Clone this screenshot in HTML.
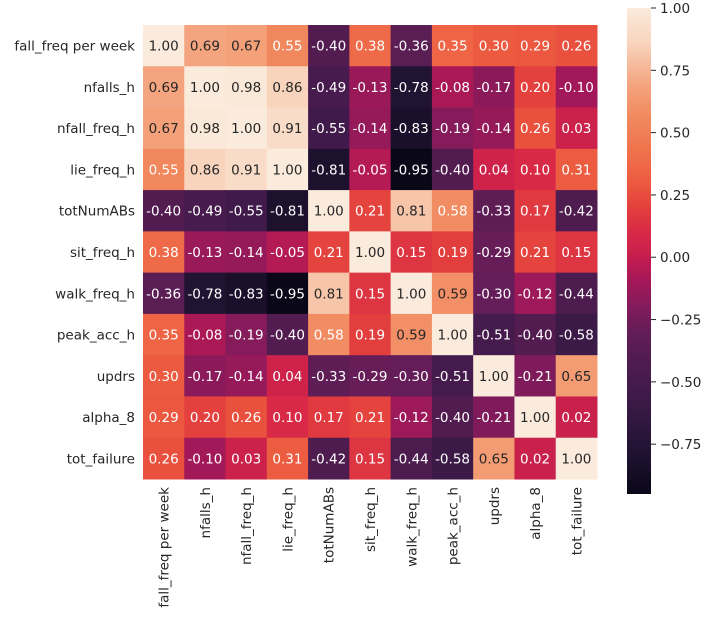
<!DOCTYPE html><html><head><meta charset="utf-8"><style>
body{margin:0;background:#fff;}svg text{font-family:"DejaVu Sans","Liberation Sans",sans-serif;}
</style></head><body>
<svg id="c" width="708" height="624"></svg>
<script>
const labels=["fall_freq per week","nfalls_h","nfall_freq_h","lie_freq_h","totNumABs","sit_freq_h","walk_freq_h","peak_acc_h","updrs","alpha_8","tot_failure"];
const row0=[1.00,0.69,0.67,0.55,-0.40,0.38,-0.36,0.35,0.30,0.29,0.26];
const row1=[0.69,1.00,0.98,0.86,-0.49,-0.13,-0.78,-0.08,-0.17,0.20,-0.10];
const row2=[0.67,0.98,1.00,0.91,-0.55,-0.14,-0.83,-0.19,-0.14,0.26,0.03];
const row3=[0.55,0.86,0.91,1.00,-0.81,-0.05,-0.95,-0.40,0.04,0.10,0.31];
const row4=[-0.40,-0.49,-0.55,-0.81,1.00,0.21,0.81,0.58,-0.33,0.17,-0.42];
const row5=[0.38,-0.13,-0.14,-0.05,0.21,1.00,0.15,0.19,-0.29,0.21,0.15];
const row6=[-0.36,-0.78,-0.83,-0.95,0.81,0.15,1.00,0.59,-0.30,-0.12,-0.44];
const row7=[0.35,-0.08,-0.19,-0.40,0.58,0.19,0.59,1.00,-0.51,-0.40,-0.58];
const row8=[0.30,-0.17,-0.14,0.04,-0.33,-0.29,-0.30,-0.51,1.00,-0.21,0.65];
const row9=[0.29,0.20,0.26,0.10,0.17,0.21,-0.12,-0.40,-0.21,1.00,0.02];
const row10=[0.26,-0.10,0.03,0.31,-0.42,0.15,-0.44,-0.58,0.65,0.02,1.00];
const matrix=[row0,row1,row2,row3,row4,row5,row6,row7,row8,row9,row10];
const cbTicks=[1.00,0.75,0.50,0.25,0.00,-0.25,-0.50,-0.75];
const vmin=-0.95,vmax=1.0;
const gx=143,gy=25,gw=454,gh=454,n=labels.length,cw=gw/n,ch=gh/n;
const cbx=627,cbw=24,cby=8,cbh=486;
const stops=[[-0.95,"#0a0718"],[-0.8,"#1e1230"],[-0.58,"#3c1a48"],[-0.42,"#4f1c50"],[-0.3,"#641d58"],[-0.19,"#861b5c"],[-0.1,"#a31858"],[-0.03,"#bb1b52"],[0.03,"#cc214b"],[0.1,"#d82a46"],[0.2,"#e4403d"],[0.3,"#ec5a3f"],[0.4,"#ef6e4a"],[0.55,"#f1875c"],[0.69,"#f4a47e"],[0.86,"#f8d4bd"],[1.0,"#faebdd"]];
function hex(h){return [1,3,5].map(i=>parseInt(h.substr(i,2),16));}
function cmap(v){if(v<=stops[0][0])return stops[0][1];for(let i=1;i<stops.length;i++){if(v<=stops[i][0]){const a=stops[i-1],b=stops[i];const f=(v-a[0])/(b[0]-a[0]);const A=hex(a[1]),B=hex(b[1]);return "rgb("+A.map((x,k)=>Math.round(x+(B[k]-x)*f)).join(",")+")";}}return stops[stops.length-1][1];}
const cy=v=>cby+(vmax-v)/(vmax-vmin)*cbh;
const svg=document.getElementById('c');const NS="http://www.w3.org/2000/svg";
function el(t,a,txt){const e=document.createElementNS(NS,t);for(const k in a)e.setAttribute(k,a[k]);if(txt!=null)e.textContent=txt;svg.appendChild(e);return e;}
matrix.forEach((row,i)=>row.forEach((v,j)=>{
 const r=el('rect',{x:gx+j*cw,y:gy+i*ch,width:cw+0.5,height:ch+0.5,fill:cmap(v)});
 
 
 const t=el('text',{x:gx+j*cw+cw/2,y:gy+i*ch+ch/2+5,'text-anchor':'middle','font-size':13.5,fill:v>0.585?'#262626':'#ffffff'},v.toFixed(2));
 
 
}));
labels.forEach((l,i)=>{
 const t=el('text',{x:gx-8,y:gy+i*ch+ch/2+5,'text-anchor':'end','font-size':13.5,fill:'#262626'},l);
 
 
 const x=gx+i*cw+cw/2+5;
 const u=el('text',{x:x,y:gy+gh+8,'text-anchor':'end','font-size':13.5,fill:'#262626',transform:`rotate(-90 ${x} ${gy+gh+8})`},l);
 
 
});
const defs=el('defs',{});const g=document.createElementNS(NS,'linearGradient');g.setAttribute('id','cb');g.setAttribute('x1',0);g.setAttribute('y1',1);g.setAttribute('x2',0);g.setAttribute('y2',0);defs.appendChild(g);
stops.forEach(s=>{const st=document.createElementNS(NS,'stop');st.setAttribute('offset',(s[0]-vmin)/(vmax-vmin));st.setAttribute('stop-color',s[1]);g.appendChild(st);});
const cb=el('rect',{x:cbx,y:cby,width:cbw,height:cbh,fill:'url(#cb)'});


cbTicks.forEach(v=>{
 const y=cy(v);
 el('line',{x1:cbx+cbw,x2:cbx+cbw+5,y1:y,y2:y,stroke:'#262626','stroke-width':1});
 const t=el('text',{x:cbx+cbw+9,y:y+5,'font-size':13.5,fill:'#262626'},(v<0?'\u2212'+Math.abs(v).toFixed(2):v.toFixed(2)));
 
 
});
</script></body></html>
